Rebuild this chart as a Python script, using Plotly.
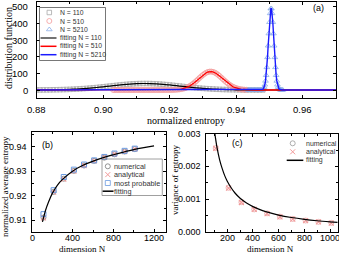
import numpy as np
import plotly.graph_objects as go

W, H = 339, 254

# ---------------- panel (a): distribution functions ----------------
sq110_x0, sq110_dx = 0.880, 0.001
sq110_y = [0.3, 0.4, 0.6, 0.8, 1.0, 1.3, 1.6, 2.1, 2.6, 3.2,
           3.9, 4.8, 5.8, 7.0, 8.3, 9.7, 11.3, 13.1, 15.0, 17.1,
           19.2, 21.4, 23.7, 25.9, 28.1, 30.2, 32.2, 34.0, 35.6, 36.9,
           37.9, 38.6, 39.0, 39.0, 38.6, 37.9, 36.9, 35.6, 34.0, 32.2,
           30.2, 28.1, 25.9, 23.7, 21.4, 19.2, 17.1, 15.0, 13.1, 11.3,
           9.7, 8.3, 7.0, 5.8, 4.8, 3.9, 3.2, 2.6, 2.0, 1.6,
           1.3, 1.0, 0.8, 0.6, 0.4, 0.3, 0.2, 0.1, 0.1]

ci510_x0, ci510_dx = 0.903, 0.0005
ci510_y = [0, 0, 0, 0, 0, 0, 0, 0, 0, 0,
           0, 0, 0, 0, 0, 0, 0, 0, 0, 0,
           0, 0, 0, 0, 0, 0, 0, 0, 0,
           0.02, 0.04, 0.07, 0.12, 0.2, 0.32, 0.52, 0.8, 1.23, 1.85,
           2.7, 3.9, 5.6, 7.8, 10.6, 14.2, 18.6, 24.0, 30.2, 37.5,
           45.5, 54.3, 63.5, 72.8, 81.9, 90.3, 97.8, 103.8, 108.1, 110.4,
           110.6, 108.7, 104.8, 99.1, 91.9, 83.6, 74.6, 65.3, 56.1, 47.3,
           39.0, 31.6, 25.1, 19.6, 15.0, 11.2, 8.3, 6.0, 4.2, 2.9,
           2.0, 1.3]

tr5210_x0, tr5210_dx = 0.9436, 0.0002
tr5210_y = [0, 0, 0, 0, 0, 0, 0, 0, 0, 0,
            0, 0, 0, 0, 0, 0, 0, 0.04, 0.12, 0.33,
            0.8, 1.9, 4.2, 8.7, 17.1, 31.4, 54.4, 88.6, 135.8, 195.7,
            265.4, 338.6, 406.6, 459.4, 488.3, 488.3, 459.4, 406.6, 338.6, 265.4,
            195.7, 135.8, 88.6, 54.4, 31.4, 17.1, 8.7, 4.2, 1.9, 0.8,
            0.33, 0.12, 0.04]

fit110_x0, fit110_dx = 0.880, 0.002
fit110_y = [0.3, 0.6, 1.0, 1.6, 2.6, 3.9, 5.8, 8.3, 11.3, 15.0,
            19.2, 23.7, 28.1, 32.2, 35.6, 37.9, 39.0, 38.6, 36.9, 34.0,
            30.2, 25.9, 21.4, 17.1, 13.1, 9.7, 7.0, 4.8, 3.2, 2.0,
            1.3, 0.8, 0.4, 0.2, 0.1, 0, 0, 0, 0, 0,
            0, 0, 0, 0, 0, 0]

fit510_x0, fit510_dx = 0.917, 0.0005
fit510_y = [0.01,
            0.02, 0.04, 0.07, 0.12, 0.2, 0.32, 0.52, 0.8, 1.23, 1.85,
            2.7, 3.9, 5.6, 7.8, 10.6, 14.2, 18.6, 24.0, 30.2, 37.5,
            45.5, 54.3, 63.5, 72.8, 81.9, 90.3, 97.8, 103.8, 108.1, 110.4,
            110.6, 108.7, 104.8, 99.1, 91.9, 83.6, 74.6, 65.3, 56.1, 47.3,
            39.0, 31.6, 25.1, 19.6, 15.0, 11.2, 8.3, 6.0, 4.2, 2.9,
            2.0, 1.3, 0.88, 0.55, 0.36, 0.21, 0.13, 0.07, 0.05, 0.02]

fit5210_x0, fit5210_dx = 0.947, 0.0002
fit5210_y = [0.04, 0.12, 0.33, 0.8, 1.9, 4.2, 8.7, 17.1, 31.4, 54.4,
             88.6, 135.8, 195.7, 265.4, 338.6, 406.6, 459.4, 488.3, 488.3, 459.4,
             406.6, 338.6, 265.4, 195.7, 135.8, 88.6, 54.4, 31.4, 17.1, 8.7,
             4.2, 1.9, 0.8, 0.33, 0.12, 0.04]

entropy_limits = [0.880, 0.970]      # fitted curves are drawn over the full axis
a_xticks = [0.88, 0.90, 0.92, 0.94, 0.96]
a_yticks = [0, 100, 200, 300, 400, 500]

# ---------------- panel (b): average entropy ----------------
N_pts = [110, 210, 310, 410, 510, 610, 710, 810, 910, 1010]
avg_numerical = [0.9111, 0.9216, 0.9270, 0.9302, 0.9324, 0.9343, 0.9356, 0.9370, 0.9381, 0.9391]
avg_analytical = [0.9110, 0.9215, 0.9268, 0.9301, 0.9324, 0.9343, 0.9357, 0.9370, 0.9381, 0.9391]
avg_mostprob = [0.9125, 0.9223, 0.9277, 0.9307, 0.9328, 0.9345, 0.9359, 0.9373, 0.9384, 0.9393]
avg_fit_N = [100, 130, 160, 200, 250, 300, 400, 500, 600, 700, 800, 900, 1000, 1100, 1200]
avg_fit = [0.9093, 0.9140, 0.9175, 0.9212, 0.9245, 0.9268, 0.9302, 0.9325, 0.9342,
           0.9356, 0.9368, 0.9379, 0.9389, 0.9397, 0.9404]
b_xticks = [0, 400, 800, 1200]
b_yticks = [0.91, 0.92, 0.93, 0.94]

# ---------------- panel (c): variance of entropy ----------------
var_numerical = [0.00256, 0.00135, 0.00091, 0.00069, 0.00057, 0.00047, 0.00040, 0.00035, 0.00031, 0.00028]
var_analytical = [0.00255, 0.00134, 0.00090, 0.00069, 0.00056, 0.00046, 0.00039, 0.00035, 0.00031, 0.00027]
var_fit_N = [103, 120, 140, 160, 180, 200, 230, 260, 300, 350, 400, 450, 500,
             600, 700, 800, 900, 1000, 1060]
var_fit = [0.00301, 0.00258, 0.00221, 0.00194, 0.00172, 0.00155, 0.00135, 0.00119,
           0.00103, 0.000886, 0.000775, 0.000689, 0.00062, 0.000517, 0.000443,
           0.000388, 0.000344, 0.00031, 0.000292]
c_xticks = [200, 400, 600, 800, 1000]
c_yticks = [0.000, 0.001, 0.002, 0.003]

# ---------------- styles ----------------
SANS = "Liberation Sans"
SERIF = "Liberation Serif"
C_GRAY, C_PINK, C_LBLUE = "#a8a8a8", "#f29a9a", "#8caee8"
C_RED, C_BLUE = "#ff0000", "#1a1aff"


def grid(x0, dx, ys):
    return x0 + dx * np.arange(len(ys))


fig = go.Figure()

# panel (a) markers
fig.add_trace(go.Scatter(x=grid(sq110_x0, sq110_dx, sq110_y), y=sq110_y, mode="markers",
                         marker=dict(symbol="square-open", size=4.5, color=C_GRAY, line=dict(width=0.8)),
                         xaxis="x", yaxis="y", showlegend=False))
fig.add_trace(go.Scatter(x=grid(ci510_x0, ci510_dx, ci510_y), y=ci510_y, mode="markers",
                         marker=dict(symbol="circle-open", size=5, color=C_PINK, line=dict(width=0.8)),
                         xaxis="x", yaxis="y", showlegend=False))
fig.add_trace(go.Scatter(x=grid(tr5210_x0, tr5210_dx, tr5210_y), y=tr5210_y, mode="markers",
                         marker=dict(symbol="triangle-up-open", size=5, color=C_LBLUE, line=dict(width=0.8)),
                         xaxis="x", yaxis="y", showlegend=False))
# panel (a) fitted lines
fig.add_trace(go.Scatter(x=grid(fit110_x0, fit110_dx, fit110_y), y=fit110_y, mode="lines",
                         line=dict(color="black", width=1.2, shape="spline"),
                         xaxis="x", yaxis="y", showlegend=False))
fx = [entropy_limits[0]] + list(grid(fit510_x0, fit510_dx, fit510_y)) + [entropy_limits[1]]
fig.add_trace(go.Scatter(x=fx, y=[0] + fit510_y + [0], mode="lines",
                         line=dict(color=C_RED, width=1.3),
                         xaxis="x", yaxis="y", showlegend=False))
fx = [entropy_limits[0]] + list(grid(fit5210_x0, fit5210_dx, fit5210_y)) + [entropy_limits[1]]
fig.add_trace(go.Scatter(x=fx, y=[0] + fit5210_y + [0], mode="lines",
                         line=dict(color=C_BLUE, width=1.4),
                         xaxis="x", yaxis="y", showlegend=False))

# panel (b)
fig.add_trace(go.Scatter(x=N_pts, y=avg_numerical, mode="markers",
                         marker=dict(symbol="circle-open", size=5, color="#777777", line=dict(width=0.8)),
                         xaxis="x2", yaxis="y2", showlegend=False))
fig.add_trace(go.Scatter(x=N_pts, y=avg_analytical, mode="markers",
                         marker=dict(symbol="x-thin-open", size=5, color=C_PINK, line=dict(width=1.1)),
                         xaxis="x2", yaxis="y2", showlegend=False))
fig.add_trace(go.Scatter(x=N_pts, y=avg_mostprob, mode="markers",
                         marker=dict(symbol="square-open", size=5, color="#6b9be0", line=dict(width=1)),
                         xaxis="x2", yaxis="y2", showlegend=False))
fig.add_trace(go.Scatter(x=avg_fit_N, y=avg_fit, mode="lines",
                         line=dict(color="black", width=1.2, shape="spline"),
                         xaxis="x2", yaxis="y2", showlegend=False))

# panel (c)
fig.add_trace(go.Scatter(x=N_pts, y=var_numerical, mode="markers",
                         marker=dict(symbol="circle-open", size=5, color="#e8a0a0", line=dict(width=0.8)),
                         xaxis="x3", yaxis="y3", showlegend=False))
fig.add_trace(go.Scatter(x=N_pts, y=var_analytical, mode="markers",
                         marker=dict(symbol="x-thin-open", size=5, color=C_PINK, line=dict(width=1.1)),
                         xaxis="x3", yaxis="y3", showlegend=False))
fig.add_trace(go.Scatter(x=var_fit_N, y=var_fit, mode="lines",
                         line=dict(color="black", width=1.2, shape="spline"),
                         xaxis="x3", yaxis="y3", showlegend=False))

# ---------------- hand-made legends on a pixel overlay axis ----------------
# (symbol x, row y, kind, style, label, text x, font size)
legend_rows = [
    (49.3, 12.5, "marker", dict(symbol="square-open", size=4.5, color=C_GRAY), "N = 110", 58.5, 6.8),
    (49.3, 21.0, "marker", dict(symbol="circle-open", size=5, color=C_PINK), "N = 510", 58.5, 6.8),
    (49.3, 29.5, "marker", dict(symbol="triangle-up-open", size=5, color=C_LBLUE), "N = 5210", 58.5, 6.8),
    (48.5, 38.0, "line", dict(color="#444444", half=8), "fitting N = 110", 58.5, 6.8),
    (48.5, 46.3, "line", dict(color=C_RED, half=8), "fitting N = 510", 58.5, 6.8),
    (48.5, 54.7, "line", dict(color=C_BLUE, half=8), "fitting N = 5210", 58.5, 6.8),
    (107.8, 166.3, "marker", dict(symbol="circle-open", size=5, color="#777777"), "numerical", 113.3, 7.3),
    (107.8, 174.6, "marker", dict(symbol="x-thin-open", size=5, color=C_PINK), "analytical", 113.3, 7.3),
    (107.8, 183.0, "marker", dict(symbol="square-open", size=5, color="#6b9be0"), "most probable", 113.3, 7.3),
    (108.0, 191.2, "line", dict(color="black", half=5.5), "fitting", 113.3, 7.3),
    (292.7, 143.3, "marker", dict(symbol="circle-open", size=5, color="#999999"), "numerical", 304.5, 7),
    (292.7, 151.8, "marker", dict(symbol="x-thin-open", size=5, color=C_PINK), "analytical", 304.5, 7),
    (295.0, 160.3, "line", dict(color="black", half=8.3), "fitting", 304.5, 7),
]

shapes = []
annotations = []
for xs, ys, kind, sty, label, tx, fs in legend_rows:
    if kind == "marker":
        fig.add_trace(go.Scatter(x=[xs], y=[ys], mode="markers", xaxis="x4", yaxis="y4",
                                 marker=dict(symbol=sty["symbol"], size=sty["size"], color=sty["color"],
                                             line=dict(width=1 if "x" in sty["symbol"] else 0.8)),
                                 showlegend=False, hoverinfo="skip"))
    else:
        shapes.append(dict(type="line", xref="x4", yref="y4", x0=xs - sty["half"], x1=xs + sty["half"],
                           y0=ys, y1=ys, line=dict(color=sty["color"], width=1.5)))
    annotations.append(dict(x=tx, y=ys, xref="x4", yref="y4", text=label,
                            showarrow=False, xanchor="left", yanchor="middle", borderpad=0,
                            font=dict(family=SANS, size=fs, color="#333333")))

# legend boxes
shapes.append(dict(type="rect", xref="x4", yref="y4", x0=39.5, x1=105.5, y0=7.5, y1=60.5,
                   line=dict(color="#555555", width=0.8)))
shapes.append(dict(type="rect", xref="x4", yref="y4", x0=102, x1=162.3, y0=159, y1=195.5,
                   line=dict(color="#888888", width=0.8)))

# panel labels and axis titles
texts = [
    (318, 8, "(a)", SANS, 9, 0),
    (47, 144.5, "(b)", SANS, 9, 0),
    (237, 142.5, "(c)", SANS, 9, 0),
    (186, 120, "normalized entropy", SERIF, 10, 0),
    (8, 48, "distribution function", SERIF, 10, -90),
    (5, 187, "normalized average entropy", SERIF, 9, -90),
    (82, 249.3, "dimension N", SERIF, 9, 0),
    (175, 180, "variance of entropy", SERIF, 9, -90),
    (270, 249.3, "dimension N", SERIF, 9, 0),
]
for xs, ys, t, fam, sz, ang in texts:
    annotations.append(dict(x=xs, y=ys, xref="x4", yref="y4", text=t, showarrow=False,
                            xanchor="center", yanchor="middle", textangle=ang,
                            font=dict(family=fam, size=sz, color="black")))

# tick labels placed through each axis' own scale
tick_sets = [
    # (axis id, 'x' or 'y', values, labels, shift px, font size)
    ("", "x", a_xticks, [f"{v:.2f}" for v in a_xticks], -4, 9.5),
    ("", "y", a_yticks, [str(v) for v in a_yticks], -6.5, 9.5),
    ("2", "x", b_xticks, [str(v) for v in b_xticks], 1.5, 9),
    ("2", "y", b_yticks, [f"{v:.2f}" for v in b_yticks], -3, 9),
    ("3", "x", c_xticks, [str(v) for v in c_xticks], 1.0, 9),
    ("3", "y", c_yticks, [f"{v:.3f}" for v in c_yticks], -3, 9),
]
for aid, kind, vals, labs, shift, fs in tick_sets:
    for v, lab in zip(vals, labs):
        if kind == "x":
            annotations.append(dict(x=v, y=0, xref="x" + aid, yref="y" + aid + " domain", text=lab,
                                    showarrow=False, xanchor="center", yanchor="top", yshift=shift,
                                    font=dict(family=SANS, size=fs, color="black")))
        else:
            annotations.append(dict(x=0, y=v, xref="x" + aid + " domain", yref="y" + aid, text=lab,
                                    showarrow=False, xanchor="right", yanchor="middle", xshift=shift,
                                    font=dict(family=SANS, size=fs, color="black")))


# ---------------- axes ----------------
def ax(domain, rng, tickvals, minor_dtick=None, anchor=None):
    d = dict(domain=domain, range=rng, tickmode="array", tickvals=tickvals, showticklabels=False,
             showline=True, linecolor="black", linewidth=1, mirror="ticks",
             ticks="inside", ticklen=3, tickwidth=1, tickcolor="black",
             showgrid=False, zeroline=False, anchor=anchor)
    if minor_dtick is not None:
        d["minor"] = dict(ticks="inside", ticklen=2, tickcolor="black", dtick=minor_dtick, showgrid=False)
    return d


fig.update_layout(
    width=W, height=H,
    margin=dict(l=0, r=0, t=0, b=0, pad=0),
    paper_bgcolor="white", plot_bgcolor="rgba(0,0,0,0)",
    showlegend=False,
    xaxis=ax([36.7 / W, 336 / W], entropy_limits, a_xticks, 0.01, "y"),
    yaxis=ax([1 - 98 / H, 1 - 2 / H], [-48, 528], a_yticks, None, "x"),
    xaxis2=ax([32.3 / W, 165.7 / W], [0, 1315], b_xticks, 200, "y2"),
    yaxis2=ax([1 - 232 / H, 1 - 132 / H], [0.9052, 0.9461], b_yticks, 0.005, "x2"),
    xaxis3=ax([205.7 / W, 337.7 / W], [32, 1060], c_xticks, 100, "y3"),
    yaxis3=ax([1 - 232 / H, 1 - 133.7 / H], [0, 0.003], c_yticks, 0.0005, "x3"),
    xaxis4=dict(domain=[0, 1], range=[0, W], visible=False, anchor="y4", fixedrange=True),
    yaxis4=dict(domain=[0, 1], range=[H, 0], visible=False, anchor="x4", fixedrange=True),
    shapes=shapes,
    annotations=annotations,
)

fig.write_html("out.html", config={"displayModeBar": False, "staticPlot": True},
               post_script="document.body.style.margin='0';document.body.style.overflow='hidden';")
